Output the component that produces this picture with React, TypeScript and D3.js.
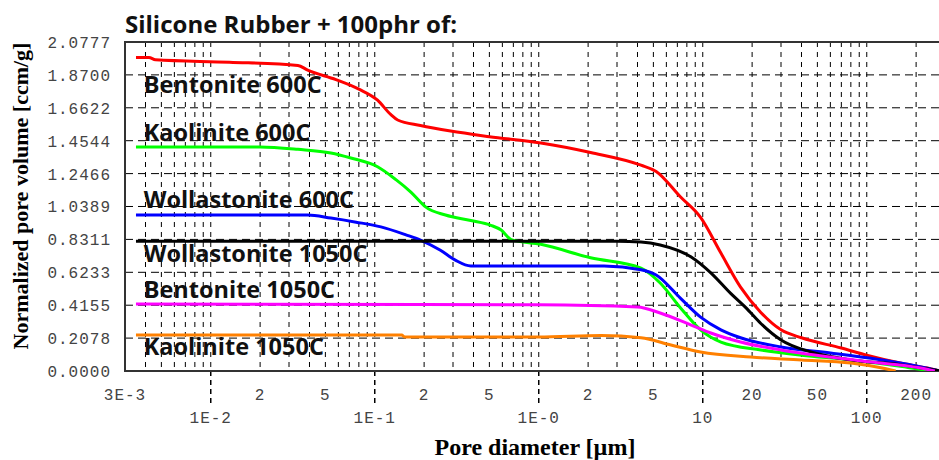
import React, { useEffect, useRef } from "react";
import * as d3 from "d3";

// pore diameter [um], normalized pore volume [ccm/g]
const bentonite600: [number, number][] = [
  [0.0035, 1.98], [0.0042, 1.98], [0.0046, 1.965], [0.013, 1.95], [0.034, 1.93], [0.039, 1.9],
  [0.058, 1.84], [0.08, 1.78], [0.104, 1.71], [0.125, 1.62], [0.138, 1.585], [0.19, 1.55],
  [0.29, 1.515], [0.5, 1.48], [1.03, 1.44], [2.07, 1.38], [4.2, 1.3], [5.2, 1.26], [7.3, 1.1],
  [9.7, 0.97], [12.9, 0.745], [17, 0.53], [22.6, 0.37], [30, 0.26], [40, 0.21], [70, 0.145],
  [100, 0.1], [160, 0.05], [230, 0.02], [280, 0],
];
const kaolinite600: [number, number][] = [
  [0.0035, 1.415], [0.02, 1.415], [0.034, 1.4], [0.054, 1.377], [0.0715, 1.345], [0.104, 1.29],
  [0.134, 1.21], [0.166, 1.13], [0.205, 1.035], [0.27, 0.985], [0.385, 0.95], [0.51, 0.92],
  [0.59, 0.89], [0.68, 0.83], [1.03, 0.8], [2.07, 0.715], [4.2, 0.65], [5.5, 0.556], [7.3, 0.4],
  [9.7, 0.26], [12.9, 0.183], [22.6, 0.133], [40, 0.1], [80, 0.07], [160, 0.03], [245, 0],
];
const wollastonite600: [number, number][] = [
  [0.0035, 0.985], [0.039, 0.985], [0.054, 0.966], [0.077, 0.94], [0.109, 0.91], [0.155, 0.86],
  [0.19, 0.827], [0.25, 0.764], [0.31, 0.7], [0.385, 0.663], [2.5, 0.663], [4.2, 0.64],
  [5.2, 0.606], [7.3, 0.46], [9.7, 0.34], [12.9, 0.26], [17, 0.21], [30, 0.152], [60, 0.114],
  [106, 0.08], [160, 0.05], [280, 0],
];
const wollastonite1050: [number, number][] = [
  [0.0035, 0.82], [3.0, 0.82], [4.2, 0.815], [5.5, 0.796], [8.5, 0.72], [11.2, 0.62], [14.8, 0.49],
  [18.3, 0.4], [22.6, 0.3], [30, 0.196], [45.6, 0.12], [80, 0.07], [160, 0.04], [280, 0],
];
const bentonite1050: [number, number][] = [
  [0.0035, 0.423], [1.0, 0.418], [4.0, 0.404], [5.5, 0.366], [8.5, 0.29], [11.2, 0.24], [17, 0.183],
  [30, 0.133], [60, 0.088], [106, 0.057], [210, 0.02], [260, 0],
];
const kaolinite1050: [number, number][] = [
  [0.0035, 0.227], [0.146, 0.227], [0.152, 0.215], [1.0, 0.215], [2.4, 0.224], [4.2, 0.21],
  [6.4, 0.164], [9.7, 0.12], [19.6, 0.088], [40, 0.07], [80, 0.05], [122, 0.02], [150, 0],
];

const seriesNames = [
  "Bentonite 600C", "Kaolinite 600C", "Wollastonite 600C",
  "Wollastonite 1050C", "Bentonite 1050C", "Kaolinite 1050C",
];
const seriesData = [bentonite600, kaolinite600, wollastonite600, wollastonite1050, bentonite1050, kaolinite1050];
const seriesColors = ["#ff0000", "#00ff00", "#0000ff", "#000000", "#ff00ff", "#ff8000"];
// where each name sits: [pore diameter, volume] of its baseline start
const seriesLabelAt: [number, number][] = [
  [0.0039, 1.755], [0.0039, 1.452], [0.0039, 1.029], [0.0039, 0.688], [0.0039, 0.461], [0.0039, 0.101],
];

const yTicks = [0, 0.2078, 0.4155, 0.6233, 0.8311, 1.0389, 1.2466, 1.4544, 1.6622, 1.87, 2.0777];
const yTickLabels = ["0.0000", "0.2078", "0.4155", "0.6233", "0.8311", "1.0389", "1.2466", "1.4544", "1.6622", "1.8700", "2.0777"];
const xMajorTicks = [0.01, 0.1, 1, 10, 100];
const xMajorLabels = ["1E-2", "1E-1", "1E-0", "10", "100"];
const xMinorTicks = [0.003, 0.02, 0.05, 0.2, 0.5, 2, 5, 20, 50, 200];
const xMinorLabels = ["3E-3", "2", "5", "2", "5", "2", "5", "20", "50", "200"];

const title = "Silicone Rubber + 100phr of:";
const xTitle = "Pore diameter [\u00b5m]";
const yTitle = "Normalized pore volume [ccm/g]";

function PoreChart() {
  const ref = useRef<SVGSVGElement>(null);

  useEffect(() => {
    const width = 939;
    const height = 460;
    const left = 125, top = 42, bottom = 371, right = 945;

    const svg = d3.select(ref.current);
    svg.selectAll("*").remove();
    svg.attr("width", width).attr("height", height);

    const x = d3.scaleLog().domain([0.003, 300]).range([left, right]);
    const y = d3.scaleLinear().domain([0, 2.0777]).range([bottom, top]);

    svg.append("rect").attr("width", width).attr("height", height).attr("fill", "#fff");

    svg.append("defs").append("clipPath").attr("id", "plot-clip")
      .append("rect").attr("x", left).attr("y", top).attr("width", right - left).attr("height", bottom - top);

    // vertical grid at every 1..9 x 10^n
    const gridX: number[] = [];
    for (let e = -3; e <= 2; e++) {
      for (let k = 1; k <= 9; k++) {
        const v = k * Math.pow(10, e);
        if (v > 0.003 * 1.001 && v < 300) gridX.push(v);
      }
    }
    svg.append("g")
      .selectAll("line")
      .data(gridX)
      .enter()
      .append("line")
        .attr("x1", d => x(d)).attr("x2", d => x(d))
        .attr("y1", top).attr("y2", bottom)
        .attr("stroke", "#000")
        .attr("stroke-width", 1)
        .attr("stroke-dasharray", "5,5");

    svg.append("g")
      .selectAll("line")
      .data(yTicks.slice(1, -1))
      .enter()
      .append("line")
        .attr("x1", left).attr("x2", right)
        .attr("y1", d => y(d)).attr("y2", d => y(d))
        .attr("stroke", "#000")
        .attr("stroke-width", 1)
        .attr("stroke-dasharray", "8,5");

    // major ticks hang below the axis
    svg.append("g")
      .selectAll("line")
      .data(xMajorTicks)
      .enter()
      .append("line")
        .attr("x1", d => x(d)).attr("x2", d => x(d))
        .attr("y1", bottom).attr("y2", bottom + 33)
        .attr("stroke", "#000")
        .attr("stroke-width", 1.5)
        .attr("stroke-dasharray", "5,4");

    // frame
    svg.append("path")
      .attr("d", `M${right},${top}H${left}V${bottom}H${right}`)
      .attr("fill", "none")
      .attr("stroke", "#333")
      .attr("stroke-width", 2);

    const line = d3.line<[number, number]>()
      .x(d => x(d[0]))
      .y(d => y(d[1]))
      .curve(d3.curveMonotoneX);

    const curves = svg.append("g").attr("clip-path", "url(#plot-clip)");
    seriesData.forEach((data, i) => {
      curves.append("path")
        .attr("d", line(data))
        .attr("fill", "none")
        .attr("stroke", seriesColors[i])
        .attr("stroke-width", 3)
        .attr("stroke-linejoin", "round");
    });

    svg.append("g")
      .selectAll("text")
      .data(seriesNames)
      .enter()
      .append("text")
        .attr("x", (d, i) => x(seriesLabelAt[i][0]))
        .attr("y", (d, i) => y(seriesLabelAt[i][1]))
        .attr("font-family", "'Open Sans', sans-serif")
        .attr("font-weight", 700)
        .attr("font-size", 23.5)
        .attr("fill", "#111")
        .text(d => d);

    const tickFont = "'Liberation Mono', monospace";
    svg.append("g")
      .selectAll("text")
      .data(yTicks)
      .enter()
      .append("text")
        .attr("x", 111)
        .attr("y", d => y(d) + 6)
        .attr("text-anchor", "end")
        .attr("font-family", tickFont)
        .attr("font-size", 16)
        .attr("letter-spacing", 1)
        .attr("fill", "#444")
        .text((d, i) => yTickLabels[i]);

    svg.append("g")
      .selectAll("text")
      .data(xMinorTicks)
      .enter()
      .append("text")
        .attr("x", d => x(d))
        .attr("y", 400)
        .attr("text-anchor", "middle")
        .attr("font-family", tickFont)
        .attr("font-size", 16)
        .attr("letter-spacing", 1)
        .attr("fill", "#444")
        .text((d, i) => xMinorLabels[i]);

    svg.append("g")
      .selectAll("text")
      .data(xMajorTicks)
      .enter()
      .append("text")
        .attr("x", d => x(d))
        .attr("y", 423)
        .attr("text-anchor", "middle")
        .attr("font-family", tickFont)
        .attr("font-size", 16)
        .attr("letter-spacing", 1)
        .attr("fill", "#444")
        .text((d, i) => xMajorLabels[i]);

    svg.append("text")
      .attr("x", left)
      .attr("y", 33)
      .attr("font-family", "'Open Sans', sans-serif")
      .attr("font-weight", 700)
      .attr("font-size", 24)
      .attr("fill", "#111")
      .text(title);

    svg.append("text")
      .attr("x", 535)
      .attr("y", 455)
      .attr("text-anchor", "middle")
      .attr("font-family", "'Liberation Serif', serif")
      .attr("font-weight", 700)
      .attr("font-size", 24)
      .attr("fill", "#000")
      .text(xTitle);

    svg.append("text")
      .attr("transform", "translate(28,196) rotate(-90)")
      .attr("text-anchor", "middle")
      .attr("font-family", "'Liberation Serif', serif")
      .attr("font-weight", 700)
      .attr("font-size", 22)
      .attr("fill", "#000")
      .text(yTitle);
  }, []);

  return <svg ref={ref} style={{ position: "absolute", left: 0, top: 0, display: "block" }}></svg>;
}

export default function App() {
  return <PoreChart />;
}
